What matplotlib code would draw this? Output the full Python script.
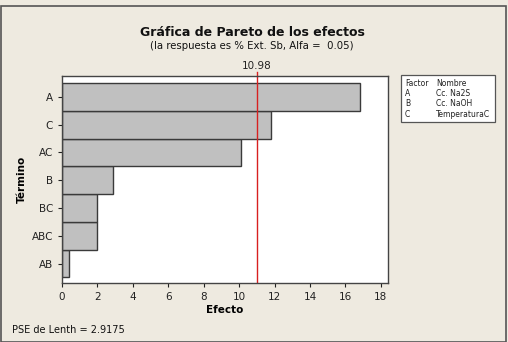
import matplotlib
matplotlib.use("Agg")
import matplotlib.pyplot as plt
from matplotlib.patches import Rectangle

# Pareto chart data (bottom to top)
terms = ["AB", "ABC", "BC", "B", "AC", "C", "A"]
effects = [0.38, 1.95, 1.95, 2.9, 10.1, 11.8, 16.8]
critical = 10.98
xticks = [0, 2, 4, 6, 8, 10, 12, 14, 16, 18]
legend_rows = [("Factor", "Nombre"), ("A", "Cc. Na2S"), ("B", "Cc. NaOH"), ("C", "TemperaturaC")]

BG = "#EEEAE0"
BAR = "#C0C0C0"
EDGE = "#3A3A3A"

plt.rcParams['font.family'] = ['DejaVu Sans']

fig = plt.figure(figsize=(5.08, 3.42), dpi=100)
fig.set_facecolor(BG)
W, H = 508, 342

# outer frame
fig.patches.append(Rectangle((1 / W, 0), 505 / W, 1 - 6 / H, transform=fig.transFigure,
                             fill=False, edgecolor="#555555", linewidth=1.2))

ax = fig.add_axes([62 / W, 1 - 283 / H, 326 / W, 207 / H])
ax.set_facecolor("white")
y = list(range(len(terms)))
ax.barh(y, effects, height=1.0, color=BAR, edgecolor=EDGE, linewidth=1.0)
ax.axvline(critical, color="#D82020", linewidth=1.0)
ax.plot([critical, critical], [1.0, 1.02], transform=ax.get_xaxis_transform(),
        color="#D82020", linewidth=1.0, clip_on=False)
ax.text(critical, 1.022, f"{critical:.2f}", transform=ax.get_xaxis_transform(),
        ha="center", va="bottom", fontsize=7.5, color="#222222")

ax.set_xlim(0, 18.4)
ax.set_ylim(-0.7, 6.75)
ax.set_xticks(xticks)
ax.set_yticks(y)
ax.set_yticklabels(terms)
ax.tick_params(axis="both", labelsize=7.5, colors="#222222", length=3, width=0.8)
for s in ax.spines.values():
    s.set_color("#444444")
    s.set_linewidth(1.0)

ax.set_xlabel("Efecto", fontsize=7.5, fontweight="bold", labelpad=2)
ax.set_ylabel("Término", fontsize=7.5, fontweight="bold")
ax.yaxis.set_label_coords(-35 / 326, 0.5)

fig.text(252 / W, 1 - 32 / H, "Gráfica de Pareto de los efectos", ha="center", va="center",
         fontsize=9, fontweight="bold", color="#111111")
fig.text(252 / W, 1 - 46 / H, "(la respuesta es % Ext. Sb, Alfa =  0.05)", ha="center",
         va="center", fontsize=7.3, color="#111111")
fig.text(12 / W, 1 - 330 / H, "PSE de Lenth = 2.9175", ha="left", va="center",
         fontsize=7, color="#111111")

# factor legend box
lx0, ly0, lx1, ly1 = 401, 75, 495, 122
fig.patches.append(Rectangle((lx0 / W, 1 - ly1 / H), (lx1 - lx0) / W, (ly1 - ly0) / H,
                             transform=fig.transFigure, facecolor="white",
                             edgecolor="#555555", linewidth=0.9))
for i, (a, b) in enumerate(legend_rows):
    yy = 1 - (83 + i * 10.4) / H
    fig.text(405 / W, yy, a, fontsize=5.5, va="center", color="#222222")
    fig.text(436 / W, yy, b, fontsize=5.5, va="center", color="#222222")

fig.savefig("out.png", dpi=100, facecolor=BG)
